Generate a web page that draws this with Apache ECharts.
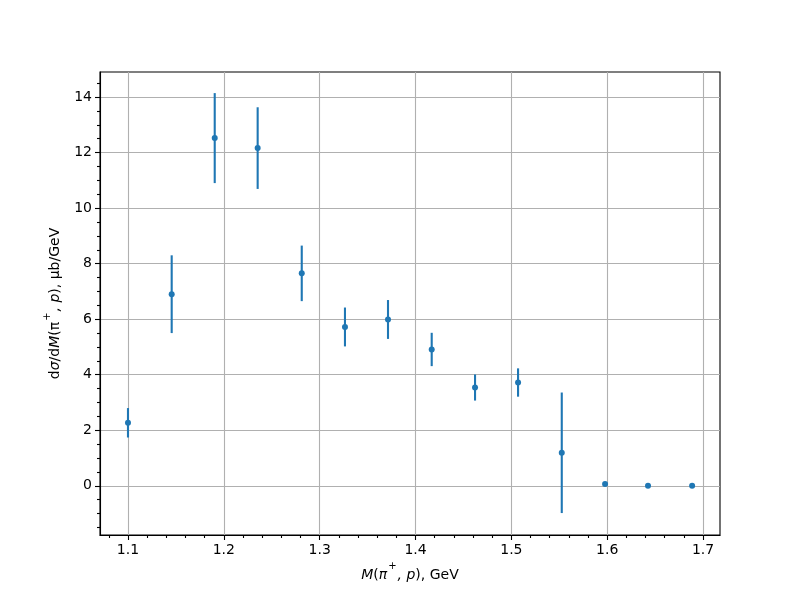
<!DOCTYPE html>
<html>
<head>
<meta charset="utf-8">
<script src="https://cdn.jsdelivr.net/npm/echarts@6/dist/echarts.min.js"></script>
<style>html,body{margin:0;padding:0;background:#fff}#chart{width:800px;height:600px}</style>
</head>
<body>
<div id="chart"></div>
<script>
// Data
const massGeV   = [1.1, 1.1456, 1.1905, 1.2353, 1.2813, 1.3264, 1.3713, 1.4169, 1.4621, 1.5070, 1.5526, 1.5978, 1.6426, 1.6886];
const dsigma    = [2.27, 6.90, 12.52, 12.16, 7.65, 5.72, 5.99, 4.91, 3.54, 3.72, 1.19, 0.07, 0.0, 0.0];
const dsigmaErr = [0.53, 1.40, 1.62, 1.47, 1.00, 0.70, 0.70, 0.60, 0.47, 0.51, 2.17, 0.0, 0.0, 0.0];

// Tick labels / positions
const xMajorTicks = [1.1, 1.2, 1.3, 1.4, 1.5, 1.6, 1.7];
const xMinorTicks = [1.08, 1.12, 1.14, 1.16, 1.18, 1.22, 1.24, 1.26, 1.28, 1.32, 1.34, 1.36, 1.38,
                     1.42, 1.44, 1.46, 1.48, 1.52, 1.54, 1.56, 1.58, 1.62, 1.64, 1.66, 1.68];
const yMajorTicks = [0, 2, 4, 6, 8, 10, 12, 14];
const yMinorTicks = [-1.5, -1, -0.5, 0.5, 1, 1.5, 2.5, 3, 3.5, 4.5, 5, 5.5, 6.5, 7, 7.5,
                     8.5, 9, 9.5, 10.5, 11, 11.5, 12.5, 13, 13.5, 14.5];

const X_MIN = 1.0708, X_MAX = 1.7177;
const Y_MIN = -1.77, Y_MAX = 14.90;

const FONT = 'DejaVu Sans';
const BLUE = '#1f77b4';

const chart = echarts.init(document.getElementById('chart'), null, {renderer: 'canvas'});

const points = massGeV.map((m, i) => [m, dsigma[i]]);
const bars = massGeV.map((m, i) => [m, dsigma[i], dsigmaErr[i]]);

const richStyles = {
  n: {fontFamily: FONT, fontSize: 14, color: '#000', lineHeight: 20, verticalAlign: 'bottom'},
  i: {fontFamily: FONT, fontSize: 14, color: '#000', fontStyle: 'italic', lineHeight: 20, verticalAlign: 'bottom'},
  s: {fontFamily: FONT, fontSize: 10, color: '#000', lineHeight: 18, verticalAlign: 'top', padding: [0, 1, 0, 1]}
};

chart.setOption({
  animation: false,
  backgroundColor: '#fff',
  grid: {left: 100, right: 80, top: 72, bottom: 65, show: true, borderColor: '#000', borderWidth: 1.1, backgroundColor: 'transparent'},
  xAxis: [{
    type: 'value', min: X_MIN, max: X_MAX, position: 'bottom',
    axisLine: {show: true, onZero: false, lineStyle: {color: '#000', width: 1.1}},
    axisTick: {show: true, length: 5, lineStyle: {color: '#000', width: 1.1}, customValues: xMajorTicks},
    axisLabel: {show: true, margin: 8, customValues: xMajorTicks, formatter: v => v.toFixed(1), fontFamily: FONT, fontSize: 14, color: '#000'},
    splitLine: {show: true, lineStyle: {color: '#b0b0b0', width: 1.1}},
    name: '{i|M}{n|(}{i|π}{s|+}{i|, p}{n|), GeV}',
    nameLocation: 'middle', nameGap: 26,
    nameTextStyle: {fontFamily: FONT, fontSize: 14, color: '#000', rich: richStyles}
  }, {
    type: 'value', min: X_MIN, max: X_MAX, position: 'bottom', gridIndex: 0,
    axisLine: {show: false, onZero: false},
    axisTick: {show: true, length: 3, lineStyle: {color: '#000', width: 1.1}, customValues: xMinorTicks},
    axisLabel: {show: false},
    splitLine: {show: false}
  }],
  yAxis: [{
    type: 'value', min: Y_MIN, max: Y_MAX, position: 'left',
    axisLine: {show: true, onZero: false, lineStyle: {color: '#000', width: 1.1}},
    axisTick: {show: true, length: 5, lineStyle: {color: '#000', width: 1.1}, customValues: yMajorTicks},
    axisLabel: {show: true, margin: 8, customValues: yMajorTicks, formatter: v => String(v), fontFamily: FONT, fontSize: 14, color: '#000'},
    splitLine: {show: true, lineStyle: {color: '#b0b0b0', width: 1.1}},
    name: '{n|d}{i|σ}{n|/d}{i|M}{n|(π}{s|+}{i|, p}{n|), μb/GeV}',
    nameLocation: 'middle', nameGap: 38, nameRotate: 90,
    nameTextStyle: {fontFamily: FONT, fontSize: 14, color: '#000', rich: richStyles}
  }, {
    type: 'value', min: Y_MIN, max: Y_MAX, position: 'left', gridIndex: 0,
    axisLine: {show: false, onZero: false},
    axisTick: {show: true, length: 3, lineStyle: {color: '#000', width: 1.1}, customValues: yMinorTicks},
    axisLabel: {show: false},
    splitLine: {show: false}
  }],
  series: [{
    type: 'custom',
    xAxisIndex: 0, yAxisIndex: 0,
    data: bars,
    z: 3,
    renderItem: function (params, api) {
      const x = api.value(0), y = api.value(1), e = api.value(2);
      const p1 = api.coord([x, y - e]);
      const p2 = api.coord([x, y + e]);
      return {
        type: 'line',
        shape: {x1: p1[0], y1: p1[1], x2: p2[0], y2: p2[1]},
        style: {stroke: BLUE, lineWidth: 2.1}
      };
    }
  }, {
    type: 'scatter',
    xAxisIndex: 0, yAxisIndex: 0,
    data: points,
    symbol: 'circle', symbolSize: 6,
    itemStyle: {color: BLUE, opacity: 1},
    z: 4
  }]
});
</script>
</body>
</html>
